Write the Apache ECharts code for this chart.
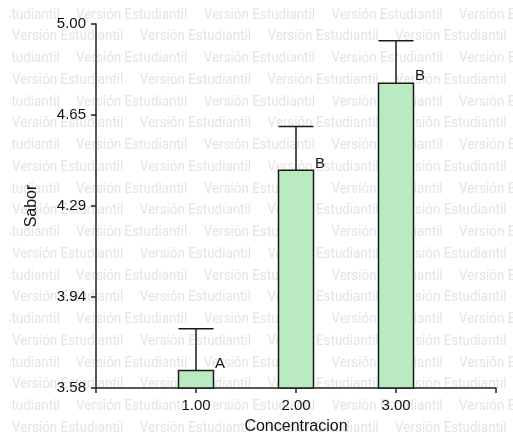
<!DOCTYPE html>
<html>
<head>
<meta charset="utf-8">
<script src="https://cdn.jsdelivr.net/npm/echarts@6/dist/echarts.min.js"></script>
<style>html,body{margin:0;padding:0;background:#fff;}#c{width:513px;height:440px;}</style>
</head>
<body>
<div id="c"></div>
<script>
// ---- data ----
const concentrations = [1, 2, 3];
const xTickLabels = ['1.00', '2.00', '3.00'];
const saborMeans = [3.648, 4.429, 4.769];
const saborErrTop = [3.811, 4.600, 4.935];
const groupLetters = ['A', 'B', 'B'];
const yTickLabels = ['3.58', '3.94', '4.29', '4.65', '5.00'];
const yMin = 3.58, yMax = 5.00;
const xMin = 0, xMax = 4;
const watermarkText = 'Versión Estudiantil';

// ---- build ----
const yTickValues = yTickLabels.map((_, i) => yMin + i * (yMax - yMin) / (yTickLabels.length - 1));
const data = concentrations.map((c, i) => [c, saborMeans[i], saborErrTop[i], groupLetters[i]]);

const W = 513, H = 440;
const wm = [];
const period = 127.7, rowGap = 21.75;
for (let r = 0; r < 20; r++) {
  const y = 15 + r * rowGap;
  const x0 = (r % 2 === 0) ? 76 - period : 12;
  for (let x = x0; x < W; x += period) {
    wm.push({
      type: 'text', x: x, y: y, scaleX: 0.926, z: -100, silent: true,
      style: { text: watermarkText, fill: '#e4e4e4', font: '14.5px Roboto', verticalAlign: 'middle', align: 'left' }
    });
  }
}
wm.push({ type: 'rect', x: 0, y: 0, z: -99, silent: true, shape: { x: 0, y: 0, width: 10, height: H }, style: { fill: '#fff' } });

const axisColor = '#222';
const chart = echarts.init(document.getElementById('c'), null, { renderer: 'canvas' });
chart.setOption({
  animation: false,
  backgroundColor: '#fff',
  graphic: { elements: wm },
  grid: { left: 96, right: 17, top: 24, bottom: 47, containLabel: false },
  xAxis: {
    type: 'value', min: xMin, max: xMax, interval: 1,
    name: 'Concentracion', nameLocation: 'middle', nameGap: 31,
    nameTextStyle: { fontFamily: 'Liberation Sans', fontSize: 16, color: '#111' },
    splitLine: { show: false },
    axisLine: { show: true, lineStyle: { color: axisColor, width: 1.5 } },
    axisTick: { show: true, length: 5, lineStyle: { color: axisColor, width: 1.5 } },
    axisLabel: {
      customValues: concentrations,
      formatter: v => { const i = concentrations.indexOf(Math.round(v)); return i >= 0 ? xTickLabels[i] : ''; },
      fontFamily: 'Liberation Sans', fontSize: 15, color: '#111', margin: 10
    }
  },
  yAxis: {
    type: 'value', min: yMin, max: yMax,
    name: 'Sabor', nameLocation: 'middle', nameGap: 56, nameRotate: 90,
    nameTextStyle: { fontFamily: 'Liberation Sans', fontSize: 16, color: '#111' },
    splitLine: { show: false },
    axisLine: { show: true, lineStyle: { color: axisColor, width: 1.5 } },
    axisTick: { show: true, length: 5, customValues: yTickValues, lineStyle: { color: axisColor, width: 1.5 } },
    axisLabel: {
      customValues: yTickValues,
      formatter: v => {
        let best = 0, bd = Infinity;
        yTickValues.forEach((t, i) => { const d = Math.abs(t - v); if (d < bd) { bd = d; best = i; } });
        return yTickLabels[best];
      },
      fontFamily: 'Liberation Sans', fontSize: 15, color: '#111', margin: 10
    }
  },
  series: [{
    type: 'custom',
    data: data,
    encode: { x: 0, y: 1 },
    clip: false,
    renderItem: function (params, api) {
      const x = api.value(0), m = api.value(1), e = api.value(2);
      const letter = data[params.dataIndex][3];
      const base = api.coord([x, yMin]);
      const top = api.coord([x, m]);
      const err = api.coord([x, e]);
      const w = api.size([0.35, 0])[0];
      return {
        type: 'group',
        children: [
          { type: 'rect', shape: { x: top[0] - w / 2, y: top[1], width: w, height: base[1] - top[1] },
            style: { fill: '#b9eac1', stroke: '#1a1a1a', lineWidth: 1.5 } },
          { type: 'line', shape: { x1: top[0], y1: top[1], x2: err[0], y2: err[1] },
            style: { stroke: '#1a1a1a', lineWidth: 1.5 } },
          { type: 'line', shape: { x1: err[0] - w / 2, y1: err[1], x2: err[0] + w / 2, y2: err[1] },
            style: { stroke: '#1a1a1a', lineWidth: 1.5 } },
          { type: 'text', x: top[0] + 24, y: top[1] - 7,
            style: { text: letter, font: '15px "Liberation Sans"', fill: '#111', align: 'center', verticalAlign: 'middle' } }
        ]
      };
    }
  }]
});
</script>
</body>
</html>
